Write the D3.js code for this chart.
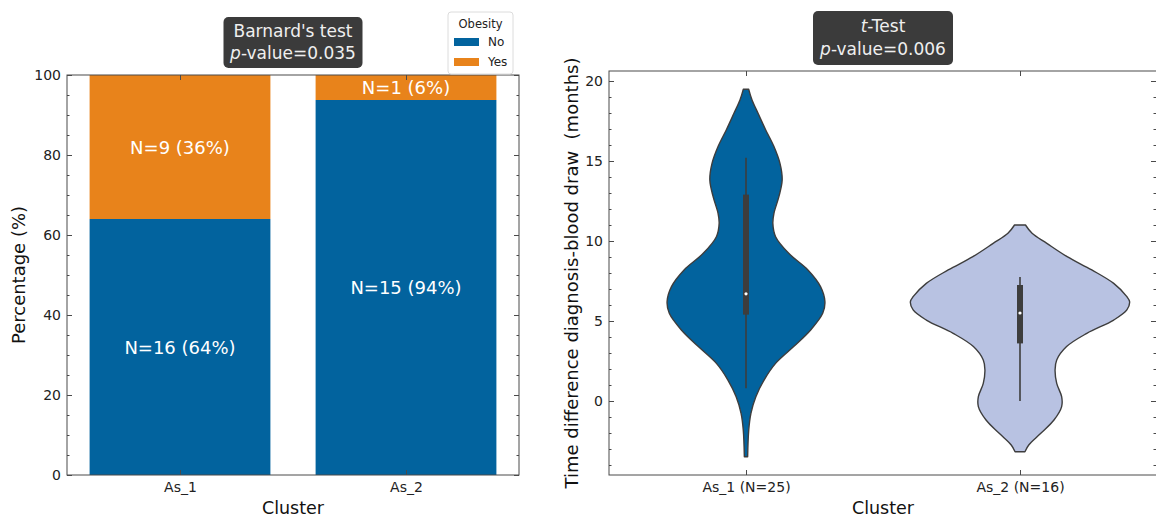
<!DOCTYPE html>
<html>
<head>
<meta charset="utf-8">
<script src="https://cdn.jsdelivr.net/npm/d3@7"></script>
<style>
  html, body { margin: 0; padding: 0; background: #fff; }
  svg { display: block; font-family: "DejaVu Sans", sans-serif; }
</style>
</head>
<body>
<svg id="chart" width="1156" height="517"></svg>
<script>
// ---------------- DATA ----------------
const barCategories = ["As_1", "As_2"];
const obesityGroups = ["No", "Yes"];
const pctNo  = [64, 93.75];
const pctYes = [36, 6.25];
const countNo  = [16, 15];
const countYes = [9, 1];
const labelNo  = ["N=16 (64%)", "N=15 (94%)"];
const labelYes = ["N=9 (36%)", "N=1 (6%)"];
const leftYTicks = [0, 20, 40, 60, 80, 100];
const leftYMinor = [5,10,15,25,30,35,45,50,55,65,70,75,85,90,95];

const violinCategories = ["As_1 (N=25)", "As_2 (N=16)"];
// violin outlines: value (months) and relative half width
const v1Y = [19.48,18.81,17.98,16.94,15.9,14.85,13.81,12.77,11.73,11.1,10.27,9.23,8.19,7.15,6.21,5.48,4.44,3.40,2.35,1.31,0.27,-0.77,-1.81,-3.48];
const v1W = [0.025,0.055,0.11,0.18,0.255,0.31,0.33,0.30,0.255,0.245,0.27,0.39,0.565,0.68,0.72,0.70,0.59,0.435,0.27,0.165,0.09,0.045,0.025,0.015];
const v2Y = [11.0,10.48,9.85,9.02,8.19,7.35,6.52,6.21,5.69,5.06,4.23,3.40,2.56,1.94,1.10,0.27,-0.35,-1.19,-2.02,-2.75,-3.17];
const v2W = [0.05,0.11,0.245,0.43,0.655,0.855,0.975,1.0,0.975,0.855,0.61,0.425,0.335,0.32,0.335,0.38,0.38,0.31,0.19,0.08,0.045];
// box stats: whisker low, q1, median, q3, whisker high
const boxLow  = [0.8, 0.0];
const boxQ1   = [5.4, 3.6];
const boxMed  = [6.7, 5.5];
const boxQ3   = [12.9, 7.25];
const boxHigh = [15.2, 7.75];
const rightYTicks = [0, 5, 10, 15, 20];
const rightYMinor = [-4,-3,-2,-1,1,2,3,4,6,7,8,9,11,12,13,14,16,17,18,19];

// ---------------- STYLE ----------------
const BLUE = "#02639e", ORANGE = "#e8831b", LAV = "#b8c2e2";
const EDGE = "#3d3d3d", SPINE = "#4a4a4a";

const svg = d3.select("#chart");

function spines(g, x0, x1, y0, y1) {
  g.append("rect").attr("x", x0).attr("y", y1).attr("width", x1 - x0).attr("height", y0 - y1)
    .attr("fill", "none").attr("stroke", SPINE).attr("stroke-width", 1);
}
function styleAxis(sel) {
  sel.select(".domain").remove();
  sel.selectAll(".tick line").attr("stroke", SPINE).attr("stroke-width", 1);
  sel.selectAll(".tick text").attr("fill", "#222").style("font-size", "14px")
     .style("font-family", "DejaVu Sans, sans-serif");
}

// ================= LEFT PANEL =================
const L = {x0: 67, x1: 519, y0: 475, y1: 75};
const xL = d3.scaleBand().domain(barCategories).range([L.x0, L.x1]).paddingInner(0.2).paddingOuter(0.1);
const yL = d3.scaleLinear().domain([0, 100]).range([L.y0, L.y1]);
const gL = svg.append("g");

const barData = barCategories.map((c, i) => ({c, no: pctNo[i], yes: pctYes[i], ln: labelNo[i], ly: labelYes[i]}));
gL.selectAll("rect.no").data(barData).join("rect")
  .attr("x", d => xL(d.c)).attr("width", xL.bandwidth())
  .attr("y", d => yL(d.no)).attr("height", d => yL(0) - yL(d.no)).attr("fill", BLUE);
gL.selectAll("rect.yes").data(barData).join("rect")
  .attr("x", d => xL(d.c)).attr("width", xL.bandwidth())
  .attr("y", d => yL(d.no + d.yes)).attr("height", d => yL(d.no) - yL(d.no + d.yes)).attr("fill", ORANGE);
gL.selectAll("text.ln").data(barData).join("text")
  .attr("x", d => xL(d.c) + xL.bandwidth() / 2).attr("y", d => yL(d.no / 2))
  .attr("text-anchor", "middle").attr("dominant-baseline", "central")
  .attr("fill", "#fff").style("font-size", "18px").text(d => d.ln);
gL.selectAll("text.ly").data(barData).join("text")
  .attr("x", d => xL(d.c) + xL.bandwidth() / 2).attr("y", d => yL(d.no + d.yes / 2))
  .attr("text-anchor", "middle").attr("dominant-baseline", "central")
  .attr("fill", "#fff").style("font-size", "18px").text(d => d.ly);

// axes (ticks pointing inward)
gL.append("g").attr("transform", `translate(${L.x0},0)`)
  .call(d3.axisLeft(yL).tickValues(leftYTicks).tickSize(-5).tickPadding(6).tickFormat(d3.format("d"))).call(styleAxis);
gL.append("g").attr("transform", `translate(${L.x0},0)`)
  .call(d3.axisLeft(yL).tickValues(leftYMinor).tickSize(-2.5).tickFormat("")).call(styleAxis);
gL.append("g").attr("transform", `translate(${L.x1},0)`)
  .call(d3.axisRight(yL).tickValues(leftYTicks).tickSize(-5).tickFormat("")).call(styleAxis);
gL.append("g").attr("transform", `translate(${L.x1},0)`)
  .call(d3.axisRight(yL).tickValues(leftYMinor).tickSize(-2.5).tickFormat("")).call(styleAxis);
const xLc = d3.scalePoint().domain(barCategories).range([L.x0, L.x1]).padding(0.5);
gL.append("g").attr("transform", `translate(0,${L.y0})`)
  .call(d3.axisBottom(xLc).tickSize(-5).tickPadding(7)).call(styleAxis);
gL.append("g").attr("transform", `translate(0,${L.y1})`)
  .call(d3.axisTop(xLc).tickSize(-5).tickFormat("")).call(styleAxis);
spines(gL, L.x0, L.x1, L.y0, L.y1);

gL.append("text").attr("x", (L.x0 + L.x1) / 2).attr("y", 508).attr("text-anchor", "middle")
  .attr("dominant-baseline", "central")
  .style("font-size", "17.5px").attr("fill", "#111").text("Cluster");
gL.append("text").attr("transform", `translate(25,${(L.y0 + L.y1) / 2}) rotate(-90)`)
  .attr("text-anchor", "middle").style("font-size", "18px").attr("fill", "#111").text("Percentage (%)");

// annotation box
function annBox(cx, yTop, yBot, w, line1Parts, line2Parts) {
  const g = svg.append("g");
  g.append("rect").attr("x", cx - w / 2).attr("y", yTop).attr("width", w).attr("height", yBot - yTop)
    .attr("rx", 5).attr("fill", "#3b3b3b");
  const ys = [yTop + (yBot - yTop) * 0.28, yTop + (yBot - yTop) * 0.7];
  [line1Parts, line2Parts].forEach((parts, i) => {
    const t = g.append("text").attr("x", cx).attr("y", ys[i]).attr("text-anchor", "middle")
      .attr("dominant-baseline", "central").attr("fill", "#efefef").style("font-size", "17px");
    parts.forEach(p => t.append("tspan").style("font-style", p.it ? "italic" : "normal").text(p.t));
  });
}
annBox((L.x0 + L.x1) / 2, 17, 68, 139,
  [{t: "Barnard's test"}], [{t: "p", it: true}, {t: "-value=0.035"}]);

// legend
const lg = svg.append("g");
lg.append("rect").attr("x", 448).attr("y", 12).attr("width", 65).attr("height", 62).attr("rx", 3)
  .attr("fill", "#fff").attr("stroke", "#dcdcdc").attr("stroke-width", 1);
lg.append("text").attr("x", 480.5).attr("y", 24).attr("text-anchor", "middle").attr("dominant-baseline", "central")
  .style("font-size", "11.5px").attr("fill", "#222").text("Obesity");
const lgColors = [BLUE, ORANGE];
obesityGroups.forEach((name, i) => {
  const yy = 42 + i * 20;
  lg.append("rect").attr("x", 454).attr("y", yy - 4).attr("width", 25).attr("height", 8).attr("fill", lgColors[i]);
  lg.append("text").attr("x", 488).attr("y", yy).attr("dominant-baseline", "central")
    .style("font-size", "12px").attr("fill", "#222").text(name);
});

// ================= RIGHT PANEL =================
const R = {x0: 609, x1: 1157, y0: 475, y1: 71};
const xR = d3.scalePoint().domain(violinCategories).range([R.x0, R.x1]).padding(0.5);
const yR = d3.scaleLinear().domain([-4.625, 20.625]).range([R.y0, R.y1]);
const wR = d3.scaleLinear().domain([0, 1]).range([0, 0.4 * xR.step()]);
const gR = svg.append("g");

const violins = [
  {c: violinCategories[0], ys: v1Y, ws: v1W, fill: BLUE},
  {c: violinCategories[1], ys: v2Y, ws: v2W, fill: LAV}
];
violins.forEach((v, i) => {
  const cx = xR(v.c);
  const pts = v.ys.map((y, k) => ({y, w: v.ws[k]}));
  const area = d3.area().curve(d3.curveCatmullRom.alpha(0.5))
    .y(d => yR(d.y)).x0(d => cx - wR(d.w)).x1(d => cx + wR(d.w));
  gR.append("path").attr("d", area(pts)).attr("fill", v.fill)
    .attr("stroke", EDGE).attr("stroke-width", 1.4).attr("stroke-linejoin", "round");
  gR.append("line").attr("x1", cx).attr("x2", cx).attr("y1", yR(boxLow[i])).attr("y2", yR(boxHigh[i]))
    .attr("stroke", EDGE).attr("stroke-width", 1.6);
  gR.append("rect").attr("x", cx - 3).attr("width", 6).attr("y", yR(boxQ3[i]))
    .attr("height", yR(boxQ1[i]) - yR(boxQ3[i])).attr("fill", EDGE);
  gR.append("circle").attr("cx", cx).attr("cy", yR(boxMed[i])).attr("r", 1.6).attr("fill", "#fff");
});

gR.append("g").attr("transform", `translate(${R.x0},0)`)
  .call(d3.axisLeft(yR).tickValues(rightYTicks).tickSize(-5).tickPadding(6).tickFormat(d3.format("d"))).call(styleAxis);
gR.append("g").attr("transform", `translate(${R.x0},0)`)
  .call(d3.axisLeft(yR).tickValues(rightYMinor).tickSize(-2.5).tickFormat("")).call(styleAxis);
gR.append("g").attr("transform", `translate(${R.x1 - 1},0)`)
  .call(d3.axisRight(yR).tickValues(rightYTicks).tickSize(-5).tickFormat("")).call(styleAxis);
gR.append("g").attr("transform", `translate(${R.x1 - 1},0)`)
  .call(d3.axisRight(yR).tickValues(rightYMinor).tickSize(-2.5).tickFormat("")).call(styleAxis);
gR.append("g").attr("transform", `translate(0,${R.y0})`)
  .call(d3.axisBottom(xR).tickSize(-5).tickPadding(7)).call(styleAxis);
gR.append("g").attr("transform", `translate(0,${R.y1})`)
  .call(d3.axisTop(xR).tickSize(-5).tickFormat("")).call(styleAxis);
spines(gR, R.x0, R.x1, R.y0, R.y1);

gR.append("text").attr("x", (R.x0 + R.x1) / 2).attr("y", 508).attr("text-anchor", "middle")
  .attr("dominant-baseline", "central")
  .style("font-size", "17.5px").attr("fill", "#111").text("Cluster");
gR.append("text").attr("transform", `translate(578,${(R.y0 + R.y1) / 2}) rotate(-90)`)
  .attr("text-anchor", "middle").attr("xml:space", "preserve").style("white-space", "pre")
  .style("font-size", "18px").attr("fill", "#111").text("Time difference diagnosis-blood draw  (months)");

annBox((R.x0 + R.x1) / 2, 11, 65, 140,
  [{t: "t", it: true}, {t: "-Test"}], [{t: "p", it: true}, {t: "-value=0.006"}]);
</script>
</body>
</html>
